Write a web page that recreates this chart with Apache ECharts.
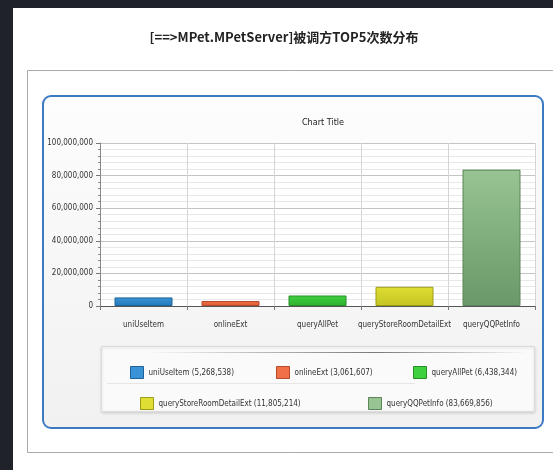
<!DOCTYPE html>
<html><head><meta charset="utf-8">
<script src="https://cdn.jsdelivr.net/npm/echarts@6/dist/echarts.min.js"></script>
<style>html,body{margin:0;padding:0;background:#1f2329;}#c{width:553px;height:470px;}</style>
</head><body><div id="c"></div>
<script>
const categories = ['uniUseItem','onlineExt','queryAllPet','queryStoreRoomDetailExt','queryQQPetInfo'];
const values = [5268538, 3061607, 6438344, 11805214, 83669856];
const yTicks = [0, 20000000, 40000000, 60000000, 80000000, 100000000];
const topColors = ['#3a93d6','#f07048','#3fd03f','#dede33','#97c492'];
const bottomColors = ['#2479b8','#d85a34','#2fb02f','#c4c424','#6b9868'];
const borderColors = ['#1d6299','#b34a2a','#259125','#9c9c18','#5c8458'];
const legendPos = [[125,361],[271,361],[408,361],[135,392],[363,392]];

const NF = "'DejaVu Sans Condensed','Liberation Sans Narrow',sans-serif";
const fmt = v => v.toLocaleString('en-US');

const series = categories.map((c,i)=>({
  name: c, type:'bar', barWidth: 58, barGap:'-100%',
  data: categories.map((_,j)=> j===i ? values[i] : null),
  itemStyle:{
    color: new echarts.graphic.LinearGradient(0,0,0,1,[{offset:0,color:topColors[i]},{offset:1,color:bottomColors[i]}]),
    borderColor: borderColors[i], borderWidth: 1
  },
  z: 5
}));

const legends = categories.map((c,i)=>({
  left: legendPos[i][0], top: legendPos[i][1],
  itemWidth: 13, itemHeight: 12, itemGap: 0,
  icon: 'rect', selectedMode: false,
  textStyle:{fontFamily:NF, fontSize:8, color:'#333', padding:[0,0,0,0]},
  data:[{name:c, itemStyle:{color:topColors[i], borderColor:borderColors[i], borderWidth:1}}],
  formatter: n => n + ' (' + fmt(values[categories.indexOf(n)]) + ')'
}));

const chart = echarts.init(document.getElementById('c'), null, {renderer:'canvas'});
chart.setOption({
  animation:false,
  backgroundColor:'transparent',
  title:[
    {text:'[==>MPet.MPetServer]被调方TOP5次数分布', left:279, top:26, textAlign:'center',
     textStyle:{fontFamily:"'Noto Sans CJK SC',sans-serif", fontSize:13, fontWeight:'bold', color:'#222'}},
    {text:'Chart Title', left:318, top:113, textAlign:'center',
     textStyle:{fontFamily:NF, fontSize:9, fontWeight:'normal', color:'#222'}}
  ],
  graphic:[
    {type:'rect', z:-10, shape:{x:13,y:8,width:540,height:462}, style:{fill:'#ffffff'}},
    {type:'rect', z:-9, shape:{x:27.5,y:70.5,width:540,height:382}, style:{fill:'#ffffff', stroke:'#aaaaaa', lineWidth:1}},
    {type:'rect', z:-8, shape:{x:43,y:96,width:500,height:332,r:8},
     style:{fill:new echarts.graphic.LinearGradient(0,0,0,1,[{offset:0,color:'#fdfdfd'},{offset:1,color:'#f1f1f1'}]),
            stroke:'#3d7ac4', lineWidth:2}},
    {type:'rect', z:-7, shape:{x:100,y:143,width:435,height:163}, style:{fill:'#ffffff'}},
    {type:'rect', z:-7, shape:{x:101.5,y:346.5,width:433,height:65},
     style:{fill:'#fafafa', stroke:'#dddddd', lineWidth:1, shadowBlur:3, shadowColor:'rgba(0,0,0,0.15)', shadowOffsetY:1}},
    {type:'line', z:-6, shape:{x1:150,y1:352.5,x2:525,y2:352.5},
     style:{stroke:new echarts.graphic.LinearGradient(0,0,1,0,[{offset:0,color:'rgba(90,90,90,0)'},{offset:0.6,color:'rgba(90,90,90,0.8)'},{offset:1,color:'rgba(90,90,90,0)'}]), lineWidth:1}},
    {type:'line', z:-6, shape:{x1:107,y1:383.5,x2:415,y2:383.5}, style:{stroke:'#e6e6e6', lineWidth:1}}
  ],
  legend: legends,
  grid:{left:100, right:18, top:143, bottom:164, containLabel:false},
  xAxis:{
    type:'category', data:categories,
    axisLine:{lineStyle:{color:'#555', width:1}},
    axisTick:{show:true, length:4, lineStyle:{color:'#777'}},
    axisLabel:{fontFamily:NF, fontSize:8, color:'#333', margin:15, interval:0},
    splitLine:{show:true, lineStyle:{color:'#d6d6d6'}}
  },
  yAxis:{
    type:'value', min:0, max:100000000, interval:20000000,
    axisLine:{show:true, lineStyle:{color:'#888'}},
    axisTick:{show:true, length:4, lineStyle:{color:'#777'}},
    minorTick:{show:true, splitNumber:5, length:2, lineStyle:{color:'#888'}},
    axisLabel:{fontFamily:NF, fontSize:8, color:'#333', margin:7,
      formatter: v => yTicks.indexOf(v) >= 0 ? fmt(v) : ''},
    splitLine:{show:true, lineStyle:{color:'#c4c4c4'}},
    minorSplitLine:{show:true, lineStyle:{color:'#e8e8e8'}}
  },
  series: series
});
</script></body></html>
